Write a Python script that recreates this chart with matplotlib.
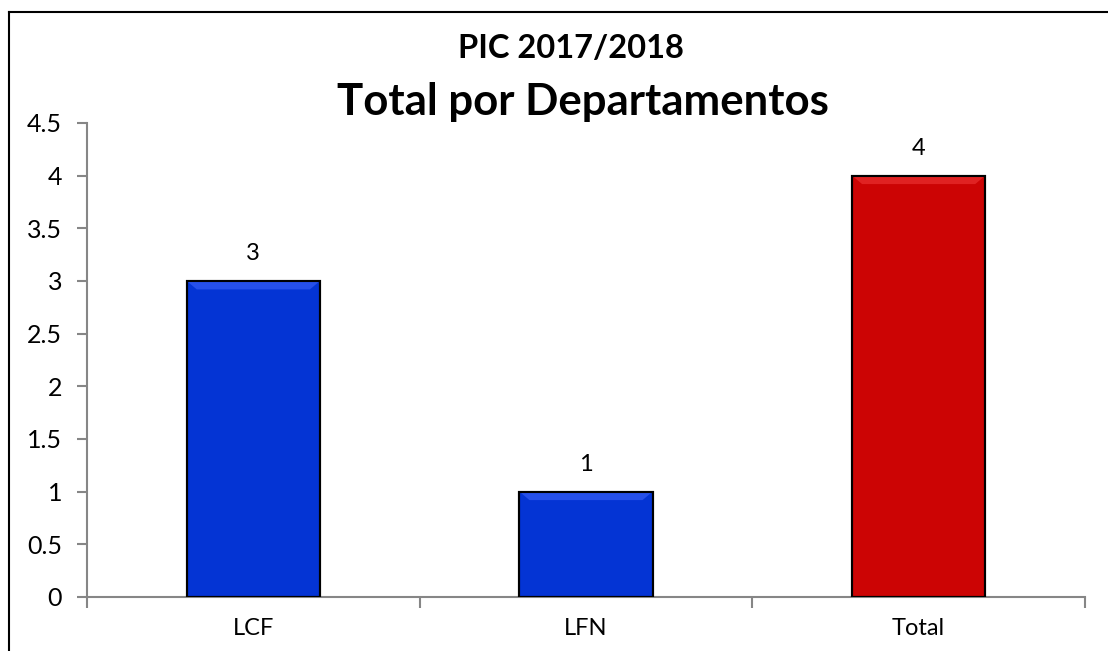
import matplotlib
matplotlib.use("Agg")
import matplotlib.pyplot as plt
from matplotlib.patches import Rectangle, Polygon
from matplotlib.lines import Line2D

plt.rcParams['font.family'] = ['Lato', 'DejaVu Sans']

categories = ["LCF", "LFN", "Total"]
values = [3, 1, 4]
colors = ["#0434D4", "#0434D4", "#CC0404"]
highlights = ["#2650EA", "#2650EA", "#E02222"]
yticks = [0, 0.5, 1, 1.5, 2, 2.5, 3, 3.5, 4, 4.5]
ytick_labels = ["0", "0.5", "1", "1.5", "2", "2.5", "3", "3.5", "4", "4.5"]
title1 = "PIC 2017/2018"
title2 = "Total por Departamentos"

W, H = 1108, 651
fig = plt.figure(figsize=(W / 100, H / 100), dpi=100)
ax = fig.add_axes([87 / W, 54 / H, (1085 - 87) / W, (597 - 123) / H])

x = list(range(len(categories)))
bw = 0.4
ax.bar(x, values, width=bw, color=colors, edgecolor="black", linewidth=1.5, zorder=3)

# bevel highlight on top of bars
for xi, v, hc in zip(x, values, highlights):
    h = 0.08
    dx = 0.03
    poly = Polygon([(xi - bw / 2, v), (xi + bw / 2, v), (xi + bw / 2 - dx, v - h), (xi - bw / 2 + dx, v - h)],
                   closed=True, facecolor=hc, edgecolor="none", zorder=4)
    ax.add_patch(poly)
    ax.add_patch(Rectangle((xi - bw / 2, 0), bw, v, facecolor="none", edgecolor="black", linewidth=1.5, zorder=5))

for xi, v in zip(x, values):
    ax.text(xi, v + 0.16, str(v), ha="center", va="bottom", fontsize=17, color="black")

ax.set_xlim(-0.5, len(categories) - 0.5)
ax.set_ylim(0, 4.5)
ax.set_yticks(yticks)
ax.set_yticklabels(ytick_labels, fontsize=18)
ax.set_xticks([i - 0.5 for i in range(len(categories) + 1)])
ax.set_xticklabels([])
ax.set_xticks(x, minor=True)
ax.set_xticklabels(categories, minor=True, fontsize=17)
ax.tick_params(axis="x", which="minor", length=0, pad=15)
ax.tick_params(axis="x", which="major", length=8, color="#868686", width=1.5, direction="out")
ax.tick_params(axis="y", length=7, color="#868686", width=1.5, direction="out", pad=11)

for s in ["top", "right"]:
    ax.spines[s].set_visible(False)
for s in ["left", "bottom"]:
    ax.spines[s].set_color("#868686")
    ax.spines[s].set_linewidth(1.5)

fig.text(571 / W, 1 - 58 / H, title1, ha="center", va="baseline", fontsize=23.5, fontweight="bold")
fig.text(583 / W, 1 - 115 / H, title2, ha="center", va="baseline", fontsize=31.5, fontweight="bold")

# chart-area border (left and top visible)
fig.add_artist(Line2D([8.5 / W, 8.5 / W], [0, 1 - 11.5 / H], transform=fig.transFigure, color="black", linewidth=1.5))
fig.add_artist(Line2D([8.5 / W, 1], [1 - 11.5 / H, 1 - 11.5 / H], transform=fig.transFigure, color="black", linewidth=1.5))

fig.savefig("out.png", dpi=100)
